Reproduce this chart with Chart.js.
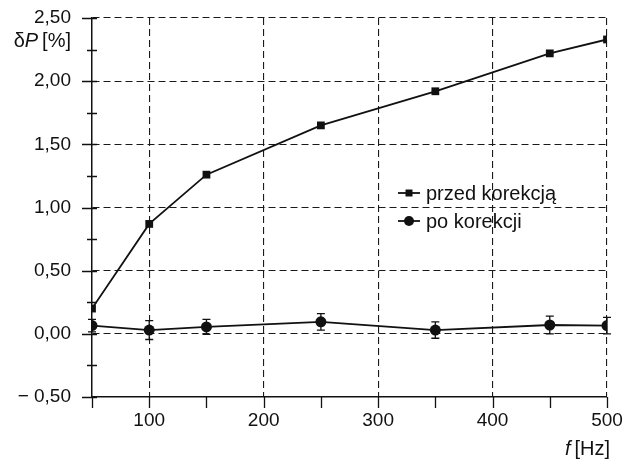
<!DOCTYPE html>
<html>
<head>
<meta charset="utf-8">
<script src="https://cdn.jsdelivr.net/npm/chart.js@4"></script>
<style>
  html, body { margin: 0; padding: 0; background: #fff; }
  #wrap { width: 626px; height: 464px; }
</style>
</head>
<body>
<div id="wrap"><canvas id="c" width="626" height="464"></canvas></div>
<script>
// Measurement frequencies [Hz]
const freqs = [50, 100, 150, 250, 350, 450, 500];
// Power error before correction [%]
const beforeCorr = [0.20, 0.87, 1.26, 1.65, 1.92, 2.22, 2.33];
// Power error after correction [%] and its uncertainty
const afterCorr = [0.065, 0.03, 0.055, 0.095, 0.03, 0.07, 0.065];
const afterErr = [0.05, 0.075, 0.06, 0.065, 0.065, 0.07, 0.065];

const seriesLabels = ['przed korekcją', 'po korekcji'];

// Axis ticks
const xMajor = [100, 200, 300, 400, 500];
const xMinor = [50, 150, 250, 350, 450];
const yMajor = [-0.5, 0, 0.5, 1.0, 1.5, 2.0, 2.5];
const yMinor = [-0.25, 0.25, 0.75, 1.25, 1.75, 2.25];

const FONT = '"Liberation Sans", Arial, Helvetica, sans-serif';
const INK = '#111';
const TICK_SIZE = 19;
const TEXT_SIZE = 20;

function fmtY(v) {
  const s = Math.abs(v).toFixed(2).replace('.', ',');
  return v < 0 ? '\u2212 ' + s : s;
}

// Error bars for datasets carrying an `errors` array
const errorBars = {
  id: 'errorBars',
  afterDatasetsDraw(chart) {
    const { ctx, scales: { x, y } } = chart;
    chart.data.datasets.forEach((ds) => {
      if (!ds.errors) return;
      ctx.save();
      ctx.strokeStyle = INK;
      ctx.lineWidth = 1.3;
      ds.data.forEach((p, i) => {
        const px = x.getPixelForValue(p.x);
        const top = y.getPixelForValue(p.y + ds.errors[i]);
        const bot = y.getPixelForValue(p.y - ds.errors[i]);
        ctx.beginPath();
        ctx.moveTo(px, top); ctx.lineTo(px, bot);
        ctx.moveTo(px - 4, top); ctx.lineTo(px + 4, top);
        ctx.moveTo(px - 4, bot); ctx.lineTo(px + 4, bot);
        ctx.stroke();
      });
      ctx.restore();
    });
  }
};

// Tick marks: crossing the y axis, hanging below the x axis
const tickMarks = {
  id: 'tickMarks',
  afterDraw(chart) {
    const { ctx, chartArea: a, scales: { x, y } } = chart;
    ctx.save();
    ctx.strokeStyle = INK;
    ctx.lineWidth = 1.3;
    ctx.beginPath();
    yMajor.forEach(v => {
      const py = Math.round(y.getPixelForValue(v)) + 0.5;
      ctx.moveTo(a.left - 10, py); ctx.lineTo(a.left + 5, py);
    });
    yMinor.forEach(v => {
      const py = Math.round(y.getPixelForValue(v)) + 0.5;
      ctx.moveTo(a.left - 5, py); ctx.lineTo(a.left + 5, py);
    });
    xMajor.concat(xMinor).forEach(v => {
      const px = Math.round(x.getPixelForValue(v)) + 0.5;
      ctx.moveTo(px, a.bottom); ctx.lineTo(px, a.bottom + 11);
    });
    ctx.stroke();
    ctx.restore();
  }
};

// Axis titles with italic symbols, and the legend inside the plot
const annotations = {
  id: 'annotations',
  afterDraw(chart) {
    const { ctx, chartArea: a } = chart;
    ctx.save();
    ctx.fillStyle = INK;
    ctx.textBaseline = 'middle';

    // y title: δP [%], right-aligned with the tick labels
    const up = FONT;
    const ty = 41;
    ctx.font = TEXT_SIZE + 'px ' + up;
    const dW = ctx.measureText('\u03B4').width;
    const bW = ctx.measureText('[%]').width;
    ctx.font = 'italic ' + TEXT_SIZE + 'px ' + up;
    const pW = ctx.measureText('P').width;
    let tx = 71 - (dW + pW + 4 + bW);
    ctx.font = TEXT_SIZE + 'px ' + up;
    ctx.fillText('\u03B4', tx, ty); tx += dW;
    ctx.font = 'italic ' + TEXT_SIZE + 'px ' + up;
    ctx.fillText('P', tx, ty); tx += pW + 4;
    ctx.font = TEXT_SIZE + 'px ' + up;
    ctx.fillText('[%]', tx, ty);

    // x title: f [Hz]
    ctx.font = TEXT_SIZE + 'px ' + up;
    const hz = '[Hz]';
    const hzW = ctx.measureText(hz).width;
    const ex = a.right + 3;
    ctx.fillText(hz, ex - hzW, 449);
    ctx.font = 'italic ' + TEXT_SIZE + 'px ' + up;
    const fW = ctx.measureText('f').width;
    ctx.fillText('f', ex - hzW - 4 - fW, 449);

    // legend
    const rows = [193, 221];
    chart.data.datasets.forEach((ds, i) => {
      const ly = rows[i];
      ctx.strokeStyle = INK;
      ctx.lineWidth = 1.8;
      ctx.beginPath();
      ctx.moveTo(398, ly); ctx.lineTo(420, ly);
      ctx.stroke();
      ctx.fillStyle = INK;
      ctx.beginPath();
      if (ds.pointStyle === 'rect') {
        ctx.rect(409 - 3.5, ly - 3.5, 7, 7);
      } else {
        ctx.arc(409, ly, 5, 0, Math.PI * 2);
      }
      ctx.fill();
      ctx.font = TEXT_SIZE + 'px ' + up;
      ctx.fillText(ds.label, 426, ly + 1);
    });
    ctx.restore();
  }
};

const gridColorFor = (values) => (c) =>
  (c.tick && values.includes(c.tick.value)) ? '#1a1a1a' : 'rgba(0,0,0,0)';

new Chart(document.getElementById('c'), {
  type: 'line',
  data: {
    datasets: [
      {
        label: seriesLabels[0],
        data: freqs.map((f, i) => ({ x: f, y: beforeCorr[i] })),
        borderColor: INK, backgroundColor: INK,
        borderWidth: 1.8, tension: 0,
        pointStyle: 'rect', pointRadius: 5.5, pointBorderWidth: 0
      },
      {
        label: seriesLabels[1],
        data: freqs.map((f, i) => ({ x: f, y: afterCorr[i] })),
        errors: afterErr,
        borderColor: INK, backgroundColor: INK,
        borderWidth: 1.8, tension: 0,
        pointStyle: 'circle', pointRadius: 5.5, pointBorderWidth: 0
      }
    ]
  },
  options: {
    responsive: false,
    animation: false,
    devicePixelRatio: 1,
    layout: { padding: { top: 18, right: 19, left: 0, bottom: 0 } },
    plugins: { legend: { display: false }, tooltip: { enabled: false } },
    scales: {
      x: {
        type: 'linear', min: 50, max: 500,
        afterBuildTicks: (s) => { s.ticks = xMajor.map(v => ({ value: v })); },
        afterFit: (s) => { s.height = 67; s.paddingLeft = 0; s.paddingRight = 0; },
        ticks: { color: INK, font: { family: FONT, size: TICK_SIZE }, padding: 12, maxRotation: 0 },
        grid: { color: gridColorFor([100, 200, 300, 400, 500]), lineWidth: 1.1, drawTicks: false },
        border: { display: true, color: INK, width: 1.5, dash: [7, 4] }
      },
      y: {
        type: 'linear', min: -0.5, max: 2.5,
        afterBuildTicks: (s) => { s.ticks = yMajor.map(v => ({ value: v })); },
        afterFit: (s) => { s.width = 92; s.paddingTop = 0; s.paddingBottom = 0; },
        ticks: { color: INK, font: { family: FONT, size: TICK_SIZE }, padding: 21, callback: (v) => fmtY(v) },
        grid: { color: gridColorFor([0, 0.5, 1.0, 1.5, 2.0, 2.5]), lineWidth: 1.1, drawTicks: false },
        border: { display: true, color: INK, width: 1.5, dash: [7, 4] }
      }
    }
  },
  plugins: [errorBars, tickMarks, annotations]
});
</script>
</body>
</html>
